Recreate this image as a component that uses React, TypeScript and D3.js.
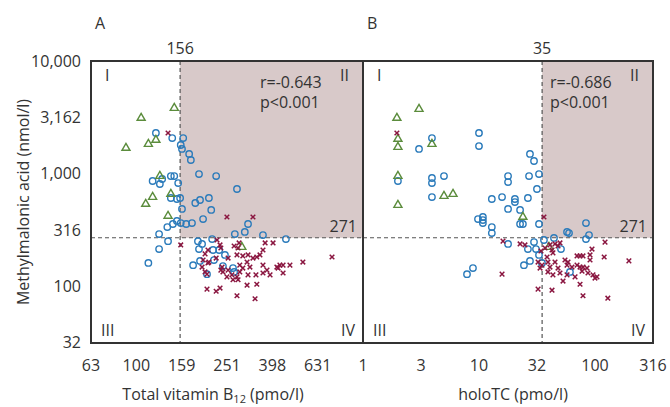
import React from 'react';
import * as d3 from 'd3';

// [x, y] pairs: panel A = total B12 (pmol/l), panel B = holoTC (pmol/l); y = MMA (nmol/l)
const aTriangles = [
  [147, 3830], [105, 3125], [122, 1995], [113, 1837], [90, 1694], [127, 955],
  [118, 622], [142, 662], [110, 540], [138, 423], [292, 224],
];
const aCircles = [
  [122, 2300], [144, 2075], [161, 2075], [157, 1800], [159, 1660], [171, 1499],
  [174, 1325], [189, 995], [225, 955], [278, 733], [118, 863], [127, 812],
  [130, 899], [142, 955], [147, 955], [153, 828], [142, 610], [151, 598],
  [156, 610], [182, 551], [191, 586], [209, 610], [214, 478], [159, 488],
  [197, 397], [151, 382], [157, 366], [166, 359], [176, 366], [145, 359],
  [137, 337], [126, 292], [138, 253], [126, 215], [113, 162], [272, 292],
  [301, 305], [311, 359], [362, 286], [457, 264], [187, 253], [216, 264],
  [189, 215], [218, 211], [178, 155], [191, 169], [195, 239], [232, 211],
  [246, 191], [220, 172], [241, 152], [267, 146], [270, 135], [205, 129],
];
const aCrosses = [
  [138, 2300], [251, 414], [327, 414], [157, 234], [227, 259], [234, 234],
  [236, 220], [270, 229], [284, 244], [281, 220], [207, 211], [201, 195],
  [197, 172], [209, 165], [225, 179], [254, 179], [278, 191], [295, 187],
  [311, 191], [327, 179], [340, 183], [351, 191], [362, 211], [370, 244],
  [401, 244], [543, 165], [730, 183], [308, 165], [286, 155], [317, 149],
  [362, 155], [377, 140], [417, 149], [430, 155], [444, 155], [476, 155],
  [422, 146], [444, 132], [389, 127], [362, 132], [337, 127], [311, 127],
  [295, 146], [286, 135], [278, 122], [264, 127], [251, 122], [254, 140],
  [239, 149], [236, 140], [241, 135], [267, 115], [281, 115], [308, 103],
  [340, 105], [278, 83], [334, 78], [205, 95], [225, 91], [234, 97],
  [207, 162], [195, 149], [201, 135], [205, 129],
];

const bTriangles = [
  [3.04, 3750], [1.96, 3125], [2.0, 2035], [2.0, 1728], [3.93, 1837], [2.0, 955],
  [4.99, 635], [5.97, 662], [2.0, 528], [23.9, 414], [40.1, 224],
];
const bCircles = [
  [3.93, 2075], [3.04, 1660], [10.0, 2300], [10.0, 1762], [27.5, 1499], [29.8, 1298],
  [32.9, 995], [27.0, 955], [17.8, 955], [17.8, 845], [31.6, 733], [15.8, 622],
  [12.9, 598], [20.4, 598], [20.4, 562], [26.4, 610], [17.8, 488], [22.6, 478],
  [9.8, 397], [10.8, 414], [10.8, 389], [10.8, 366], [12.9, 337], [12.9, 298],
  [22.6, 359], [23.9, 359], [32.9, 359], [3.93, 918], [3.93, 828], [4.99, 955],
  [3.93, 622], [2.0, 863], [83.6, 366], [57.4, 305], [59.7, 298], [88.8, 286],
  [83.6, 264], [36.3, 259], [44.3, 270], [29.8, 248], [17.8, 239], [26.4, 215],
  [31.0, 215], [50.9, 215], [32.9, 191], [27.5, 169], [24.4, 155], [34.9, 162],
  [60.8, 135], [8.87, 146], [7.88, 129],
];
const bCrosses = [
  [1.96, 2300], [36.3, 414], [16.1, 253], [22.6, 239], [24.9, 234], [122, 248],
  [120, 183], [196, 169], [94.2, 215], [15.8, 129], [32.3, 95], [42.6, 93],
  [78.8, 83], [129, 79], [74.3, 105], [40.9, 234], [45.2, 239], [48.0, 229],
  [49.9, 244], [42.6, 211], [43.4, 199], [38.6, 183], [39.3, 165], [45.2, 165],
  [34.9, 155], [33.6, 146], [40.9, 149], [48.0, 146], [55.1, 172], [58.5, 165],
  [57.4, 155], [63.3, 149], [70.0, 187], [74.3, 187], [78.8, 187], [90.6, 191],
  [90.6, 172], [70.0, 155], [74.3, 149], [78.8, 149], [85.3, 146], [77.3, 137],
  [87.0, 132], [96.1, 127], [104, 122], [67.3, 122], [57.4, 127], [49.9, 132],
  [43.4, 127], [53.0, 112], [39.3, 135], [100, 119], [37.1, 220], [32.3, 165],
  [34.2, 207],
];

const yTickValues = [10000, 3162, 1000, 316, 100, 32];
const yTickLabels = ['10,000', '3,162', '1,000', '316', '100', '32'];
const xTickValuesA = [63.1, 100, 158.5, 251.2, 398.1, 631];
const xTickLabelsA = ['63', '100', '159', '251', '398', '631'];
const xTickValuesB = [1, 3.162, 10, 31.62, 100, 316.2];
const xTickLabelsB = ['1', '3', '10', '32', '100', '316'];

const cutA = 156;
const cutB = 35;
const cutY = 271;
const statsA = ['r=-0.643', 'p<0.001'];
const statsB = ['r=-0.686', 'p<0.001'];

const BLUE = '#2b7bbb';
const GREEN = '#5b8c3c';
const RED = '#8a1640';
const SHADE = '#d8c9c9';
const TEXT = '#333';
const FONT = "'Open Sans', 'Noto Sans', sans-serif";

const top = 61;
const bottom = 343;

const y = d3.scaleLog().domain([10 ** 1.5, 10000]).range([bottom, top]);
const xA = d3.scaleLog().domain([10 ** 1.8, 1000]).range([91, 363]);
const xB = d3.scaleLog().domain([1, 10 ** 2.5]).range([363, 653]);

const triPath = d3.symbol(d3.symbolTriangle, 28)() as string;

function Panel({ x, cut, stats, letter, triangles, circles, crosses, tickValues, tickLabels }: any) {
  const [x0, x1] = x.range();
  const cx = x(cut);
  const cy = y(cutY);
  return (
    <g>
      <rect x={cx} y={top} width={x1 - cx} height={cy - top} fill={SHADE} />
      <line x1={cx} x2={cx} y1={top} y2={bottom} stroke="#555" strokeWidth={1.2} strokeDasharray="4,3" />
      <line x1={x0} x2={x1} y1={cy} y2={cy} stroke="#555" strokeWidth={1.2} strokeDasharray="4,3" />
      <text x={x0 + 4} y={29} fontSize={16}>{letter}</text>
      <text x={cx} y={54} fontSize={16} textAnchor="middle">{cut}</text>
      <text x={x1 - 6} y={232} fontSize={16} textAnchor="end">{cutY}</text>
      <text x={x1 - 103} y={88} fontSize={16}>{stats[0]}</text>
      <text x={x1 - 103} y={108} fontSize={16}>{stats[1]}</text>
      <text x={x0 + 14} y={81} fontSize={16}>I</text>
      <text x={x1 - 14} y={81} fontSize={16} textAnchor="end">II</text>
      <text x={x0 + 10} y={336} fontSize={16}>III</text>
      <text x={x1 - 8} y={336} fontSize={16} textAnchor="end">IV</text>
      {tickValues.map((t: number, i: number) => (
        <text key={i} x={x(t)} y={371} fontSize={16} textAnchor="middle">{tickLabels[i]}</text>
      ))}
      {circles.map((d: number[], i: number) => (
        <circle key={'c' + i} cx={x(d[0])} cy={y(d[1])} r={3.2} fill="none" stroke={BLUE} strokeWidth={1.4} />
      ))}
      {triangles.map((d: number[], i: number) => (
        <path key={'t' + i} d={triPath} transform={`translate(${x(d[0])},${y(d[1])})`} fill="none" stroke={GREEN} strokeWidth={1.4} />
      ))}
      {crosses.map((d: number[], i: number) => {
        const px = x(d[0]);
        const py = y(d[1]);
        return (
          <path key={'x' + i} d={`M${px - 2.3},${py - 2.3}L${px + 2.3},${py + 2.3}M${px - 2.3},${py + 2.3}L${px + 2.3},${py - 2.3}`} stroke={RED} strokeWidth={1.5} />
        );
      })}
    </g>
  );
}

export default function App() {
  return (
    <svg width={670} height={407} style={{ position: 'absolute', left: 0, top: 0, background: '#fff' }} fontFamily={FONT} fill={TEXT}>
      <Panel x={xA} cut={cutA} stats={statsA} letter="A" triangles={aTriangles} circles={aCircles} crosses={aCrosses} tickValues={xTickValuesA} tickLabels={xTickLabelsA} />
      <Panel x={xB} cut={cutB} stats={statsB} letter="B" triangles={bTriangles} circles={bCircles} crosses={bCrosses} tickValues={xTickValuesB} tickLabels={xTickLabelsB} />
      <rect x={91} y={top} width={272} height={bottom - top} fill="none" stroke="#333" strokeWidth={2} />
      <rect x={363} y={top} width={290} height={bottom - top} fill="none" stroke="#333" strokeWidth={2} />
      {yTickValues.map((t, i) => (
        <text key={i} x={81} y={y(t) + 5.5} fontSize={16} textAnchor="end">{yTickLabels[i]}</text>
      ))}
      <text transform={`translate(29,${(top + bottom) / 2}) rotate(-90)`} fontSize={16} textAnchor="middle">Methylmalonic acid (nmol/l)</text>
      <text x={213} y={400} fontSize={16} textAnchor="middle">
        Total vitamin B<tspan fontSize={11} dy={3}>12</tspan><tspan dy={-3}> (pmo/l)</tspan>
      </text>
      <text x={513} y={400} fontSize={16} textAnchor="middle">holoTC (pmo/l)</text>
    </svg>
  );
}
